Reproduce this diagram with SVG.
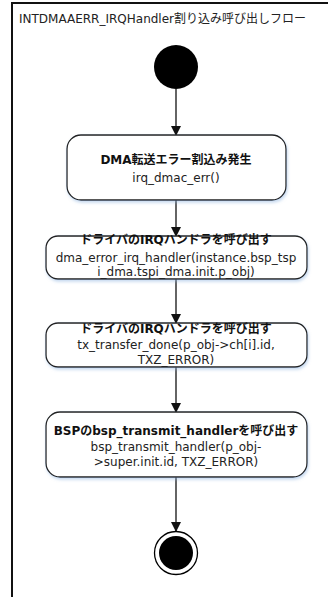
<svg xmlns="http://www.w3.org/2000/svg" width="328" height="597" viewBox="0 0 328 597">
<defs>
<style>
text{font-family:"DejaVu Sans","Noto Sans CJK JP",sans-serif;font-size:12px;fill:#222;}
.b{font-weight:bold;fill:#111;}
.c{text-anchor:middle;}
.box{fill:#fff;stroke:#222;stroke-width:1.3;filter:url(#sh);}
.ln{stroke:#111;stroke-width:1.3;fill:none;marker-end:url(#ah);}
</style>
<marker id="ah" markerWidth="10" markerHeight="10" refX="9" refY="5" orient="auto" markerUnits="userSpaceOnUse">
<path d="M0,0 L10,5 L0,10 Z" fill="#111"/>
</marker>
<filter id="sh" x="-10%" y="-10%" width="120%" height="130%">
<feDropShadow dx="1" dy="2" stdDeviation="1.5" flood-color="#8fb3e0" flood-opacity="0.5"/>
</filter>
</defs>
<rect x="12" y="3" width="330" height="600" fill="#fff" stroke="#111" stroke-width="2"/>
<text x="19" y="23">INTDMAAERR_IRQHandler割り込み呼び出しフロー</text>
<g id="connectors">
<line class="ln" x1="176" y1="89" x2="176" y2="135"/>
<line class="ln" x1="176" y1="200" x2="176" y2="236"/>
<line class="ln" x1="176" y1="279" x2="176" y2="323"/>
<line class="ln" x1="176" y1="367" x2="176" y2="412"/>
<line class="ln" x1="176" y1="477" x2="176" y2="531"/>
</g>
<g id="start"><circle cx="176" cy="67" r="22" fill="#000"/></g>
<g id="n1">
<rect class="box" x="67" y="135" width="219" height="65" rx="14"/>
<text class="b c" x="176" y="164">DMA転送エラー割込み発生</text>
<text class="c" x="176" y="182">irq_dmac_err()</text>
</g>
<g id="n2">
<rect class="box" x="46" y="236" width="261" height="43" rx="12"/>
<text class="b c" x="176" y="244">ドライバのIRQハンドラを呼び出す</text>
<text class="c" x="176" y="262">dma_error_irq_handler(instance.bsp_tsp</text>
<text class="c" x="176" y="276">i_dma.tspi_dma.init.p_obj)</text>
</g>
<g id="n3">
<rect class="box" x="46" y="323" width="261" height="44" rx="12"/>
<text class="b c" x="176" y="333">ドライバのIRQハンドラを呼び出す</text>
<text class="c" x="176" y="349">tx_transfer_done(p_obj-&gt;ch[i].id,</text>
<text class="c" x="176" y="364">TXZ_ERROR)</text>
</g>
<g id="n4">
<rect class="box" x="46" y="412" width="261" height="65" rx="14"/>
<text class="b c" x="176" y="435">BSPのbsp_transmit_handlerを呼び出す</text>
<text class="c" x="176" y="451">bsp_transmit_handler(p_obj-</text>
<text class="c" x="176" y="466">&gt;super.init.id, TXZ_ERROR)</text>
</g>
<g id="end">
<circle cx="176" cy="553" r="21.5" fill="#fff" stroke="#000" stroke-width="1.3"/>
<circle cx="176" cy="553" r="17" fill="#000"/>
</g>
</svg>
